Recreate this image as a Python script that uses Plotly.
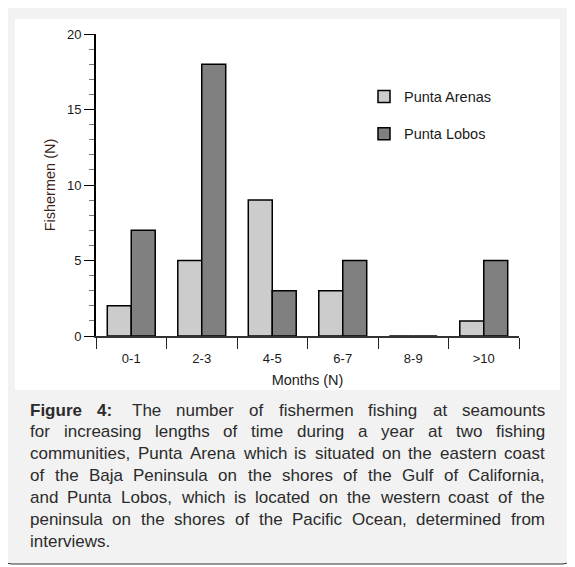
import re
import plotly.graph_objects as go

# data
categories = ['0-1', '2-3', '4-5', '6-7', '8-9', '>10']
punta_arenas = [2, 5, 9, 3, 0, 1]
punta_lobos = [7, 18, 3, 5, 0, 5]

caption_lines = [
    '**Figure** **4:**  The number of fishermen fishing at seamounts',
    'for increasing lengths of time during a year at two fishing',
    'communities, Punta Arena which is situated on the eastern coast',
    'of the Baja Peninsula on the shores of the Gulf of California,',
    'and Punta Lobos, which is located on the western coast of the',
    'peninsula on the shores of the Pacific Ocean, determined from',
    'interviews.',
]

FONT = 'Liberation Sans, Arial, sans-serif'
W, H = 575, 567
OFF = 8  # the page body margin shifts the figure by this much
# plot area in window pixels
L, R, T, B = 96, 519, 34, 336
PW, PH = R - L, B - T


def px(x):
    return (x - L) / PW


def py(y):
    return (B - y) / PH


# Arial advance widths (1/1000 em), used to justify the caption
_regular = dict(zip(
    ' ,.:()-0123456789ABCDEFGHIJKLMNOPQRSTUVWXYZabcdefghijklmnopqrstuvwxyz',
    [278, 278, 278, 278, 333, 333, 333] + [556] * 10 +
    [667, 667, 722, 722, 667, 611, 778, 722, 278, 500, 667, 556, 833,
     722, 778, 667, 778, 722, 667, 611, 722, 667, 944, 667, 667, 611] +
    [556, 556, 500, 556, 556, 278, 556, 556, 222, 222, 500, 222, 833,
     556, 556, 556, 556, 333, 500, 278, 556, 500, 722, 500, 500, 500]))
_bold = {'F': 611, 'i': 278, 'g': 611, 'u': 611, 'r': 389, 'e': 556,
         '4': 556, ':': 333}


def word_width(word, size, bold=False):
    table = _bold if bold else _regular
    return sum(table.get(c, 556) for c in word) * size / 1000


def caption_annotations(lines, x0, x1, y0, step, size, color):
    anns = []
    for i, line in enumerate(lines):
        parts = re.split(r'( +)', line)
        words = parts[0::2]
        spaces = [len(s) for s in parts[1::2]]
        bold = [w.startswith('**') for w in words]
        words = [w.strip('*') for w in words]
        widths = [word_width(w, size, b) for w, b in zip(words, bold)]
        base = [n * 278 * size / 1000 for n in spaces]
        last = i == len(lines) - 1
        extra = 0 if last or not spaces else (x1 - x0 - sum(widths) - sum(base)) / len(spaces)
        x = x0
        y = y0 + i * step
        for k, w in enumerate(words):
            text = '<b>%s</b>' % w if bold[k] else w
            anns.append(dict(x=px(x - 1), y=py(y), xref='paper', yref='paper',
                             text=text, showarrow=False, xanchor='left',
                             yanchor='middle', borderpad=0,
                             font=dict(family=FONT, size=size, color=color)))
            x += widths[k]
            if k < len(spaces):
                x += base[k] + extra
    return anns


def rounded_rect(x0, y0, x1, y1, r):
    p = lambda x, y: '%.5f,%.5f' % (px(x), py(y))
    return ('M' + p(x0 + r, y0) + ' L' + p(x1 - r, y0) +
            ' Q' + p(x1, y0) + ' ' + p(x1, y0 + r) +
            ' L' + p(x1, y1 - r) + ' Q' + p(x1, y1) + ' ' + p(x1 - r, y1) +
            ' L' + p(x0 + r, y1) + ' Q' + p(x0, y1) + ' ' + p(x0, y1 - r) +
            ' L' + p(x0, y0 + r) + ' Q' + p(x0, y0) + ' ' + p(x0 + r, y0) + ' Z')


fig = go.Figure()

fig.add_trace(go.Bar(
    x=categories, y=punta_arenas, name='Punta Arenas', legendgroup='a',
    marker=dict(color='#cccccc', line=dict(color='black', width=1.5))))
fig.add_trace(go.Bar(
    x=categories, y=punta_lobos, name='Punta Lobos', legendgroup='b',
    marker=dict(color='#808080', line=dict(color='black', width=1.5))))

shapes = [
    # grey card with rounded border
    dict(type='path', xref='paper', yref='paper', layer='below',
         path=rounded_rect(2, 2, 572, 564, 10),
         fillcolor='#f2f2f2', line=dict(color='#333333', width=1)),
    # white chart panel
    dict(type='rect', xref='paper', yref='paper', layer='below',
         x0=px(15), x1=px(560), y0=py(390), y1=py(19),
         fillcolor='white', line=dict(width=0)),
]

fig.update_layout(
    width=W - OFF, height=H - OFF,
    margin=dict(l=L - OFF, r=W - R, t=T - OFF, b=H - B, pad=0),
    paper_bgcolor='white',
    plot_bgcolor='rgba(0,0,0,0)',
    barmode='group', bargap=0.32, bargroupgap=0,
    font=dict(family=FONT, size=13, color='#1a1a1a'),
    showlegend=True,
    legend=dict(x=px(364), y=py(80.5), xanchor='left', yanchor='top',
                bgcolor='rgba(0,0,0,0)', borderwidth=0,
                traceorder='grouped', tracegroupgap=15.5,
                font=dict(family=FONT, size=14.5, color='#1a1a1a')),
    shapes=shapes,
    annotations=caption_annotations(caption_lines, 30, 545, 410, 21.9, 17, '#2b2b2b'),
)

fig.update_xaxes(
    type='category', range=[-0.5, 5.5],
    showline=True, linecolor='#333333', linewidth=1.5,
    ticks='outside', tickson='boundaries', ticklen=11, tickwidth=1,
    tickcolor='#222222', showgrid=False, zeroline=False,
    tickfont=dict(size=13), ticklabelstandoff=10,
    title=dict(text='Months (N)', standoff=10,
               font=dict(size=14.5, color='#222222')))

fig.update_yaxes(
    range=[0, 20], dtick=5, tick0=0,
    showline=True, linecolor='black', linewidth=2,
    ticks='outside', ticklen=10, tickwidth=1, tickcolor='black',
    minor=dict(dtick=1, ticks='outside', ticklen=5, tickcolor='#777777', tickwidth=1),
    showgrid=False, zeroline=False,
    tickfont=dict(size=13),
    title=dict(text='Fishermen (N)', standoff=8,
               font=dict(size=14.5, color='#3d1f17')))

fig.write_html("out.html")
